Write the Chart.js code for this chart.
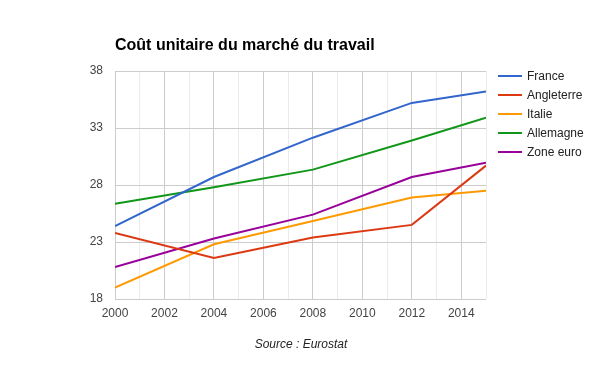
<!DOCTYPE html>
<html>
<head>
<meta charset="utf-8">
<script src="https://cdn.jsdelivr.net/npm/chart.js@4"></script>
<style>
    html, body { margin: 0; padding: 0; background: #fff; }
    #wrap { width: 600px; height: 371px; }
</style>
</head>
<body>
<div id="wrap"><canvas id="cout" width="600" height="371"></canvas></div>
<script>
// données
const annees = [2000, 2004, 2008, 2012, 2015];
const france = [24.4, 28.7, 32.15, 35.2, 36.2];
const angleterre = [23.8, 21.6, 23.4, 24.5, 29.7];
const italie = [19.0, 22.8, 24.85, 26.9, 27.5];
const allemagne = [26.35, 27.8, 29.35, 31.9, 33.9];
const zoneEuro = [20.8, 23.3, 25.4, 28.7, 29.95];
const yTicks = [18, 23, 28, 33, 38];

const titre = "Coût unitaire du marché du travail";
const source = "Source : Eurostat";

function serie(label, valeurs, couleur) {
    return {
        label: label,
        data: annees.map((a, i) => ({ x: a, y: valeurs[i] })),
        borderColor: couleur,
        backgroundColor: couleur,
        borderWidth: 2,
        pointRadius: 0,
        tension: 0,
    };
}

// titre, source et légende dessinés à la main
const habillage = {
    id: "habillage",
    afterDraw(chart) {
        const ctx = chart.ctx;
        ctx.save();
        ctx.fillStyle = "#000";
        ctx.font = "bold 16px 'Liberation Sans', Arial, sans-serif";
        ctx.textBaseline = "alphabetic";
        ctx.textAlign = "left";
        ctx.fillText(titre, 115, 50);

        ctx.fillStyle = "#222";
        ctx.font = "italic 12px 'Liberation Sans', Arial, sans-serif";
        ctx.textAlign = "center";
        ctx.textBaseline = "middle";
        ctx.fillText(source, 301, 345);

        ctx.font = "12px 'Liberation Sans', Arial, sans-serif";
        ctx.textAlign = "left";
        chart.data.datasets.forEach((ds, i) => {
            const y = 76 + i * 19;
            ctx.strokeStyle = ds.borderColor;
            ctx.lineWidth = 2;
            ctx.beginPath();
            ctx.moveTo(498, y);
            ctx.lineTo(522, y);
            ctx.stroke();
            ctx.fillStyle = "#222";
            ctx.fillText(ds.label, 527, y + 1);
        });
        ctx.restore();
    },
};

document.addEventListener("DOMContentLoaded", function () {
    const ctx = document.getElementById("cout").getContext("2d");
    new Chart(ctx, {
        type: "line",
        data: {
            datasets: [
                serie("France", france, "#3366cc"),
                serie("Angleterre", angleterre, "#dc3912"),
                serie("Italie", italie, "#ff9900"),
                serie("Allemagne", allemagne, "#109618"),
                serie("Zone euro", zoneEuro, "#990099"),
            ],
        },
        options: {
            responsive: false,
            animation: false,
            layout: { padding: { top: 71, right: 114, left: 0, bottom: 0 } },
            plugins: {
                legend: { display: false },
                tooltip: { enabled: false },
            },
            scales: {
                x: {
                    type: "linear",
                    min: 2000,
                    max: 2015,
                    afterFit: (s) => { s.height = 72; },
                    ticks: {
                        stepSize: 1,
                        autoSkip: false,
                        maxRotation: 0,
                        padding: 7,
                        color: "#444",
                        font: { family: "'Liberation Sans', Arial, sans-serif", size: 12 },
                        callback: (v) => (v % 2 === 0 ? String(v) : ""),
                    },
                    grid: {
                        drawTicks: false,
                        color: (c) => (c.tick && c.tick.value % 2 !== 0 ? "#ebebeb" : "#cccccc"),
                        lineWidth: 1,
                    },
                    border: { display: false },
                },
                y: {
                    min: 18,
                    max: 38,
                    afterFit: (s) => { s.width = 115; },
                    afterBuildTicks: (s) => { s.ticks = yTicks.map((v) => ({ value: v })); },
                    ticks: {
                        padding: 12,
                        color: "#444",
                        font: { family: "'Liberation Sans', Arial, sans-serif", size: 12 },
                    },
                    grid: { drawTicks: false, color: "#cccccc", lineWidth: 1 },
                    border: { display: false },
                },
            },
        },
        plugins: [habillage],
    });
});
</script>
</body>
</html>
